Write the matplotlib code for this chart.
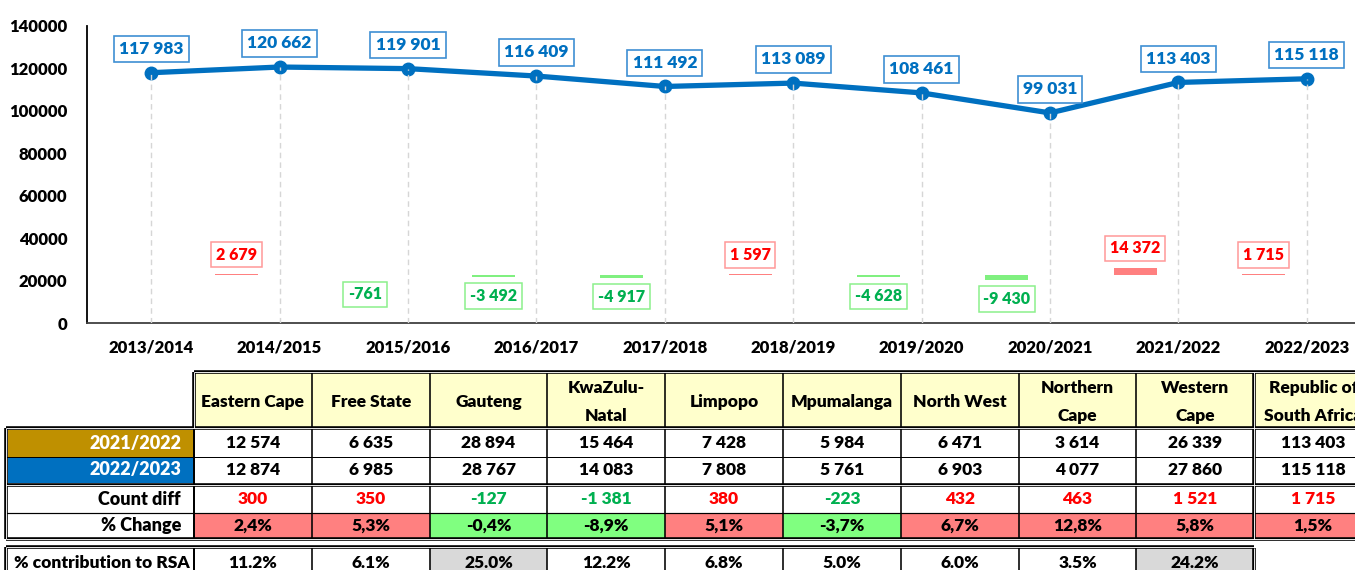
import matplotlib.pyplot as plt
import matplotlib.patches as patches
import numpy as np

plt.rcParams['font.family'] = ['Lato', 'DejaVu Sans']
plt.rcParams['font.weight'] = 'heavy'

# chart data
years = ['2013/2014', '2014/2015', '2015/2016', '2016/2017', '2017/2018',
         '2018/2019', '2019/2020', '2020/2021', '2021/2022', '2022/2023']
totals = [117983, 120662, 119901, 116409, 111492, 113089, 108461, 99031, 113403, 115118]
year_diff = [None, 2679, -761, -3492, -4917, 1597, -4628, -9430, 14372, 1715]

# table data
provinces = ['Eastern Cape', 'Free State', 'Gauteng', 'KwaZulu-\nNatal', 'Limpopo',
             'Mpumalanga', 'North West', 'Northern\nCape', 'Western\nCape',
             'Republic of\nSouth Africa']
count_2122 = [12574, 6635, 28894, 15464, 7428, 5984, 6471, 3614, 26339, 113403]
count_2223 = [12874, 6985, 28767, 14083, 7808, 5761, 6903, 4077, 27860, 115118]
count_diff = [300, 350, -127, -1381, 380, -223, 432, 463, 1521, 1715]
pct_change = [2.4, 5.3, -0.4, -8.9, 5.1, -3.7, 6.7, 12.8, 5.8, 1.5]
pct_contrib = [11.2, 6.1, 25.0, 12.2, 6.8, 5.0, 6.0, 3.5, 24.2]

BLUE = '#0070C0'
RED = '#FF0000'
GREEN = '#00B050'
WT = 'heavy'


def fmt(n):
    return f"{n:,}".replace(',', ' ')


W, H = 1355, 570
fig = plt.figure(figsize=(W / 100, H / 100), dpi=100)

# ---- line chart ----
ax = fig.add_axes([87 / W, (H - 323) / H, 1284 / W, 297 / H])
x = np.arange(len(years))
ax.plot(x, totals, color=BLUE, lw=3.8, marker='o', ms=9, zorder=3)
ax.vlines(x, 0, totals, colors='#D6D6D6', linestyles=(0, (4, 3)), lw=1, zorder=4)
ax.set_xlim(-0.5, len(years) - 0.5)
ax.set_ylim(0, 140000)
ax.set_yticks(range(0, 140001, 20000))
ax.set_xticks(x)
ax.set_xticklabels(years)
ax.tick_params(axis='y', length=0, labelsize=12, pad=14)
ax.tick_params(axis='x', length=0, labelsize=12, pad=12)
for lbl in ax.get_xticklabels() + ax.get_yticklabels():
    lbl.set_fontweight(WT)
for s in ['top', 'right']:
    ax.spines[s].set_visible(False)
ax.spines['left'].set_linewidth(1.3)
ax.spines['left'].set_color('black')
ax.spines['bottom'].set_linewidth(1.3)
ax.spines['bottom'].set_color('#404040')

for i, v in enumerate(totals):
    ax.annotate(fmt(v), (i, v), xytext=(0, 17), textcoords='offset points',
                ha='center', va='center', color=BLUE, fontsize=12.5,
                fontweight=WT, zorder=5,
                bbox=dict(boxstyle='square,pad=0.3', fc='white', ec='#3E8FD3', lw=1.2))

# year-on-year difference bars on a hidden second axis
ax2 = ax.twinx()
ax2.set_ylim(-92300, 478800)
ax2.axis('off')
off = 0.335
for i, d in enumerate(year_diff):
    if d is None:
        continue
    pos = d > 0
    ax2.bar(i - off, d, width=off, color='#FF8080' if pos else '#80F080')
    ax2.annotate(fmt(d), (i - off, d), xytext=(0, 13.7 if pos else -13.7),
                 textcoords='offset points', ha='center', va='center',
                 color=RED if pos else GREEN, fontsize=11.5, fontweight=WT,
                 bbox=dict(boxstyle='square,pad=0.3', fc='white',
                           ec='#FF9999' if pos else '#8CF08C', lw=1.1))

# ---- table (pixel coordinates) ----
tax = fig.add_axes([0, 0, 1, 1])
tax.set_xlim(0, W)
tax.set_ylim(H, 0)
tax.axis('off')

PT = 0.72
lab_x0, col_x0, col_w = 6, 194, 117.8
x_end = 1390
ncol = len(provinces)
FS = 12.5


def rect(x0, y0, w, h, fc):
    tax.add_patch(patches.Rectangle((x0, y0), w, h, fc=fc, ec='none', zorder=1))


def line(xs, ys, lw=1.5, double=False):
    tax.plot(xs, ys, color='black', lw=(3.6 if double else lw) * PT,
             solid_capstyle='butt', zorder=3)
    if double:
        tax.plot(xs, ys, color='white', lw=0.9 * PT, solid_capstyle='butt', zorder=4)


def cx(k):
    return col_x0 + k * col_w


def txt(xp, yp, s, ha='center', **kw):
    tax.text(xp, yp, s, ha=ha, va='center', fontsize=kw.pop('fontsize', FS),
             fontweight=WT, **kw)


# header
hy0, hy1 = 372, 428
rect(col_x0, hy0, x_end - col_x0, hy1 - hy0, '#FFFFCC')
for k, p in enumerate(provinces):
    txt(cx(k) + col_w / 2, (hy0 + hy1) / 2 + 2, p, linespacing=1.85)

# year rows
ry = [430, 456.5, 483]
rect(lab_x0 + 2, ry[0], col_x0 - lab_x0 - 2, ry[1] - ry[0], '#BF9000')
rect(lab_x0 + 2, ry[1], col_x0 - lab_x0 - 2, ry[2] - ry[1], BLUE)
txt(181, (ry[0] + ry[1]) / 2, years[8], ha='right', color='white', fontsize=13)
txt(181, (ry[1] + ry[2]) / 2, years[9], ha='right', color='white', fontsize=13)
for k in range(ncol):
    txt(cx(k) + col_w / 2, (ry[0] + ry[1]) / 2, fmt(count_2122[k]))
    txt(cx(k) + col_w / 2, (ry[1] + ry[2]) / 2, fmt(count_2223[k]))

# difference rows
dy = [486, 512.5, 539]
txt(181, (dy[0] + dy[1]) / 2, 'Count diff', ha='right', fontsize=13)
txt(181, (dy[1] + dy[2]) / 2, '% Change', ha='right', fontsize=13)
for k in range(ncol):
    pos = count_diff[k] > 0
    txt(cx(k) + col_w / 2, (dy[0] + dy[1]) / 2, fmt(count_diff[k]),
        color=RED if pos else GREEN)
    rect(cx(k), dy[1], col_w, dy[2] - dy[1], '#FF8080' if pct_change[k] > 0 else '#80FF80')
    txt(cx(k) + col_w / 2, (dy[1] + dy[2]) / 2, f"{pct_change[k]:.1f}%".replace('.', ','))

# contribution row
cy0, cy1 = 548, 576
txt(lab_x0 + (col_x0 - lab_x0) / 2 + 2, (cy0 + cy1) / 2 + 1, '% contribution to RSA',
    fontsize=12.5)
for k, v in enumerate(pct_contrib):
    if v > 20:
        rect(cx(k), cy0, col_w, cy1 - cy0, '#D9D9D9')
    txt(cx(k) + col_w / 2, (cy0 + cy1) / 2 + 1, f"{v:.1f}%")

# borders
line([col_x0, x_end], [hy0, hy0], double=True)
line([lab_x0, x_end], [hy1, hy1], double=True)
line([lab_x0, x_end], [ry[1], ry[1]], lw=1.0)
line([lab_x0, x_end], [ry[2] + 1.5, ry[2] + 1.5], double=True)
line([lab_x0, x_end], [dy[1], dy[1]], lw=1.2)
line([lab_x0, x_end], [dy[2], dy[2]], double=True)
line([lab_x0, cx(9)], [cy0 - 1.5, cy0 - 1.5], double=True)
line([lab_x0, lab_x0], [hy1, dy[2]], double=True)
line([lab_x0, lab_x0], [cy0 - 1.5, H], double=True)
line([col_x0, col_x0], [hy0, hy1], double=True)
line([col_x0, col_x0], [hy1, dy[2]], lw=2.0)
line([col_x0, col_x0], [cy0, H], lw=2.0)
for k in range(1, ncol + 1):
    dbl = k == 9
    line([cx(k), cx(k)], [hy0, dy[2]], lw=1.6, double=dbl)
    if k <= 9:
        line([cx(k), cx(k)], [cy0, H], lw=1.6, double=dbl)

fig.savefig('out.png', dpi=100)
